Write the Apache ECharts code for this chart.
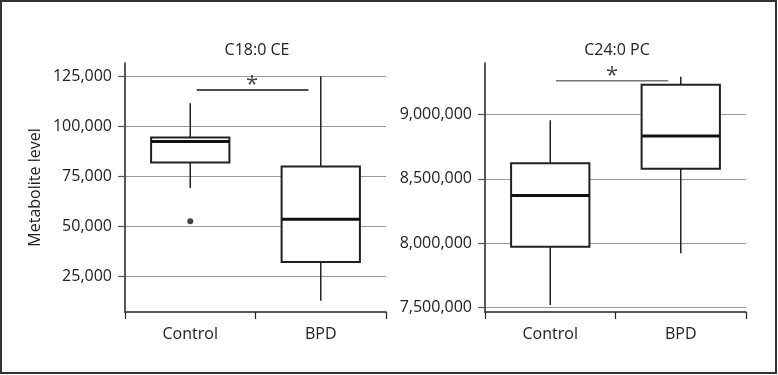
<!DOCTYPE html>
<html>
<head>
<meta charset="utf-8">
<script src="https://cdn.jsdelivr.net/npm/echarts@6/dist/echarts.min.js"></script>
<style>
html,body{margin:0;padding:0;background:#fff;}
#chart{width:778px;height:375px;}
</style>
</head>
<body>
<div id="chart"></div>
<script>
// ---- data ----
const categories = ['Control', 'BPD'];
const panelTitles = ['C18:0 CE', 'C24:0 PC'];
const yAxisTitle = 'Metabolite level';

// [min, Q1, median, Q3, max]
const ceStats = [
  [69200, 82000, 92500, 94500, 111700],
  [12500, 32000, 53500, 80000, 125300]
];
const ceOutliers = [[0, 52500]];
const ceTicks = [25000, 50000, 75000, 100000, 125000];
const ceRange = [6900, 131900];
const ceSigLine = [[0.05, 118300], [0.905, 118300]];
const ceStar = [[0.473, 123300]];

const pcStats = [
  [7520000, 7973000, 8370000, 8622000, 8955000],
  [7923000, 8579000, 8833000, 9231000, 9293000]
];
const pcTicks = [7500000, 8000000, 8500000, 9000000];
const pcRange = [7466000, 9400000];
const pcSigLine = [[0.044, 9263000], [0.904, 9263000]];
const pcStar = [[0.474, 9343000]];

// ---- chart ----
const FONT = 'Open Sans';
const TXT = '#222';
const fmt = v => v.toLocaleString('en-US');

function boxRender(params, api) {
  const x = api.value(0);
  const lo = api.coord([x, api.value(1)]);
  const q1 = api.coord([x, api.value(2)]);
  const med = api.coord([x, api.value(3)]);
  const q3 = api.coord([x, api.value(4)]);
  const hi = api.coord([x, api.value(5)]);
  const half = api.size([1, 0])[0] * 0.3;
  const cx = med[0];
  return {
    type: 'group',
    children: [
      { type: 'line', shape: { x1: cx, y1: q1[1], x2: cx, y2: lo[1] }, style: { stroke: '#222', lineWidth: 1.5 } },
      { type: 'line', shape: { x1: cx, y1: q3[1], x2: cx, y2: hi[1] }, style: { stroke: '#222', lineWidth: 1.5 } },
      { type: 'rect', shape: { x: cx - half, y: q3[1], width: half * 2, height: q1[1] - q3[1] },
        style: { fill: '#fff', stroke: '#222', lineWidth: 2 } },
      { type: 'line', shape: { x1: cx - half, y1: med[1], x2: cx + half, y2: med[1] }, style: { stroke: '#111', lineWidth: 3 } }
    ]
  };
}

function yAxisCfg(gridIndex, range, ticks, withName) {
  const cfg = {
    type: 'value', gridIndex, min: range[0], max: range[1], position: 'left',
    axisLine: { show: true, onZero: false, lineStyle: { color: '#222', width: 1.5 } },
    axisTick: { show: true, length: 7, customValues: ticks, lineStyle: { color: '#555', width: 1.2 } },
    axisLabel: { customValues: ticks, formatter: fmt, color: TXT, fontFamily: FONT, fontSize: 16, margin: 13 },
    splitLine: { show: true, lineStyle: { color: '#9a9a9a', width: 1.2 } }
  };
  if (withName) {
    cfg.name = yAxisTitle;
    cfg.nameLocation = 'middle';
    cfg.nameGap = 82;
    cfg.nameTextStyle = { color: TXT, fontFamily: FONT, fontSize: 16 };
  }
  return cfg;
}

function xAxisCfg(gridIndex) {
  return {
    type: 'category', gridIndex, data: categories, position: 'bottom',
    axisLine: { show: true, onZero: false, lineStyle: { color: '#222', width: 1.5 } },
    axisTick: { show: true, length: 7, lineStyle: { color: '#222', width: 1.2 } },
    axisLabel: { color: TXT, fontFamily: FONT, fontSize: 16, margin: 14 },
    splitLine: { show: false }
  };
}

function hiddenX(gridIndex) {
  return { type: 'value', gridIndex, min: -0.5, max: 1.5, show: false, position: 'top',
    axisLine: { onZero: false } };
}

const option = {
  animation: false,
  backgroundColor: '#fff',
  title: [
    { text: panelTitles[0], left: 252, top: 37, textAlign: 'center',
      textStyle: { color: TXT, fontFamily: FONT, fontSize: 16, fontWeight: 'normal' } },
    { text: panelTitles[1], left: 612, top: 37, textAlign: 'center',
      textStyle: { color: TXT, fontFamily: FONT, fontSize: 16, fontWeight: 'normal' } }
  ],
  graphic: [
    { type: 'rect', shape: { x: 1, y: 1, width: 775, height: 372 }, style: { fill: 'none', stroke: '#333', lineWidth: 2 }, silent: true }
  ],
  grid: [
    { left: 125, right: 392, top: 63, bottom: 63 },
    { left: 485, right: 32, top: 63, bottom: 63 }
  ],
  xAxis: [xAxisCfg(0), xAxisCfg(1), hiddenX(0), hiddenX(1)],
  yAxis: [yAxisCfg(0, ceRange, ceTicks, true), yAxisCfg(1, pcRange, pcTicks, false)],
  series: [
    {
      type: 'custom', xAxisIndex: 0, yAxisIndex: 0, renderItem: boxRender,
      encode: { x: 0, y: [1, 2, 3, 4, 5] },
      data: ceStats.map((s, i) => [i].concat(s)), silent: true, z: 3
    },
    {
      type: 'scatter', xAxisIndex: 0, yAxisIndex: 0, data: ceOutliers,
      symbol: 'circle', symbolSize: 6, itemStyle: { color: '#111' }, silent: true, z: 4
    },
    {
      type: 'custom', xAxisIndex: 1, yAxisIndex: 1, renderItem: boxRender,
      encode: { x: 0, y: [1, 2, 3, 4, 5] },
      data: pcStats.map((s, i) => [i].concat(s)), silent: true, z: 3
    },
    {
      type: 'line', xAxisIndex: 2, yAxisIndex: 0, data: ceSigLine, symbol: 'none',
      lineStyle: { color: '#111', width: 1.5 }, silent: true, z: 4
    },
    {
      type: 'line', xAxisIndex: 3, yAxisIndex: 1, data: pcSigLine, symbol: 'none',
      lineStyle: { color: '#777', width: 1.5 }, silent: true, z: 4
    },
    {
      type: 'scatter', xAxisIndex: 2, yAxisIndex: 0, data: ceStar, symbolSize: 0,
      label: { show: true, position: 'inside', formatter: '*', color: '#111', fontFamily: FONT, fontSize: 22, offset: [0, 5] },
      silent: true, z: 5
    },
    {
      type: 'scatter', xAxisIndex: 3, yAxisIndex: 1, data: pcStar, symbolSize: 0,
      label: { show: true, position: 'inside', formatter: '*', color: '#111', fontFamily: FONT, fontSize: 22, offset: [0, 5] },
      silent: true, z: 5
    }
  ]
};

const chart = echarts.init(document.getElementById('chart'), null, { renderer: 'canvas' });
chart.setOption(option);
</script>
</body>
</html>
